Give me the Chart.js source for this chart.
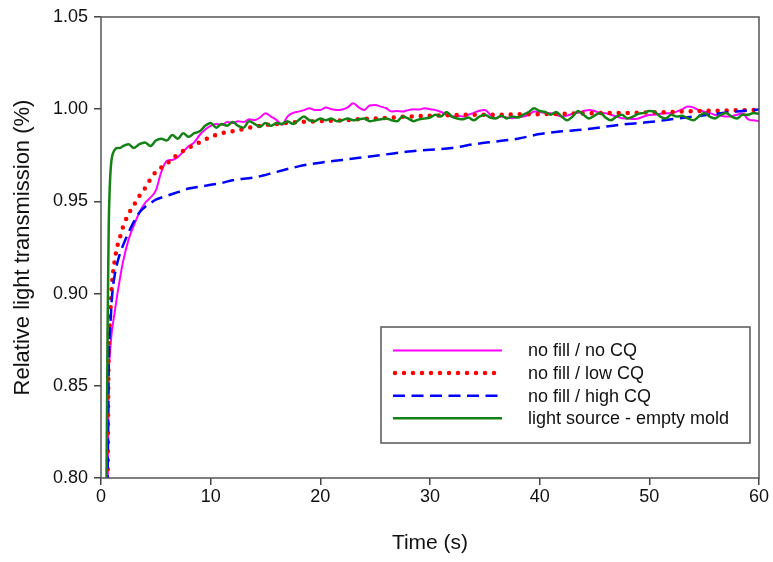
<!DOCTYPE html>
<html>
<head>
<meta charset="utf-8">
<title>Relative light transmission</title>
<script src="https://cdn.jsdelivr.net/npm/chart.js@4.4.1/dist/chart.umd.min.js"></script>
<style>
  body { margin: 0; background: #fff; }
  #wrap { width: 773px; height: 562px; }
</style>
</head>
<body>
<div id="wrap"><canvas id="lightChart" width="773" height="562"></canvas></div>
<script>
// time axis (s) for the noisy traces
const timeFine = [
    0.5, 0.6, 0.7, 0.8, 0.9, 1.0, 1.25, 1.5, 1.75, 2.0,
    2.5, 3, 3.5, 4, 4.5, 5, 5.5, 6, 6.5, 7,
    7.5, 8, 8.5, 9, 9.5, 10, 10.5, 11, 11.5, 12,
    12.5, 13, 13.5, 14, 14.5, 15, 15.5, 16, 16.5, 17,
    17.5, 18, 18.5, 19, 19.5, 20, 20.5, 21, 21.5, 22,
    22.5, 23, 23.5, 24, 24.5, 25, 25.5, 26, 26.5, 27,
    27.5, 28, 28.5, 29, 29.5, 30, 30.5, 31, 31.5, 32,
    32.5, 33, 33.5, 34, 34.5, 35, 35.5, 36, 36.5, 37,
    37.5, 38, 38.5, 39, 39.5, 40, 40.5, 41, 41.5, 42,
    42.5, 43, 43.5, 44, 44.5, 45, 45.5, 46, 46.5, 47,
    47.5, 48, 48.5, 49, 49.5, 50, 50.5, 51, 51.5, 52,
    52.5, 53, 53.5, 54, 54.5, 55, 55.5, 56, 56.5, 57,
    57.5, 58, 58.5, 59, 59.5, 60
];

// time axis (s) for the smooth traces
const timeCoarse = [
    0.6, 0.7, 0.8, 0.9, 1.0, 1.25, 1.5, 1.75, 2, 2.5,
    3, 3.5, 4, 4.5, 5, 6, 7, 8, 9, 10,
    11, 12, 14, 16, 18, 20, 22, 24, 26, 28,
    30, 32, 34, 36, 38, 40, 42, 44, 46, 48,
    50, 52, 54, 56, 58, 60
];

const noFillNoCQ = [
    0.70, 0.78, 0.852, 0.866, 0.874, 0.880, 0.890, 0.900, 0.909, 0.917,
    0.929, 0.937, 0.944, 0.949, 0.952, 0.956, 0.966, 0.972, 0.9725, 0.974,
    0.977, 0.980, 0.982, 0.986, 0.989, 0.991, 0.992, 0.9915, 0.993, 0.9925,
    0.9935, 0.993, 0.9945, 0.994, 0.9955, 0.9978, 0.996, 0.9942, 0.9915, 0.996,
    0.998, 0.9987, 0.9995, 1.0005, 0.9995, 0.9996, 1.0009, 1.000, 0.9995, 0.9998,
    1.001, 1.0032, 1.001, 0.9996, 1.002, 1.0023, 1.0014, 1.0005, 0.9987, 0.999,
    0.9987, 0.9995, 1.000, 0.9998, 1.0005, 1.000, 0.9995, 0.9985, 0.997, 0.996,
    0.9965, 0.996, 0.997, 0.998, 0.9992, 0.9996, 0.997, 0.9951, 0.996, 0.9955,
    0.9951, 0.9958, 0.996, 0.997, 0.9987, 0.9985, 0.998, 0.9978, 0.997, 0.996,
    0.9965, 0.9975, 0.998, 0.999, 0.9996, 0.999, 0.998, 0.9978, 0.997, 0.996,
    0.9951, 0.995, 0.9947, 0.995, 0.996, 0.9969, 0.997, 0.9975, 0.9978, 0.998,
    0.9987, 1.000, 1.0014, 1.001, 0.9995, 0.9987, 0.998, 0.9969, 0.9965, 0.996,
    0.9962, 0.997, 0.9978, 0.9945, 0.994, 0.9935
];

const lightSource = [
    0.795, 0.880, 0.935, 0.958, 0.969, 0.974, 0.978, 0.979, 0.979, 0.980,
    0.981, 0.979, 0.981, 0.982, 0.980, 0.983, 0.984, 0.983, 0.986, 0.984,
    0.987, 0.985, 0.987, 0.988, 0.991, 0.9925, 0.990, 0.992, 0.991, 0.993,
    0.991, 0.990, 0.9935, 0.992, 0.9905, 0.9925, 0.991, 0.9925, 0.992, 0.9935,
    0.992, 0.994, 0.996, 0.994, 0.9935, 0.995, 0.994, 0.995, 0.9935, 0.994,
    0.995, 0.994, 0.9945, 0.995, 0.9935, 0.994, 0.9945, 0.995, 0.994, 0.9935,
    0.996, 0.995, 0.9935, 0.9945, 0.995, 0.9955, 0.997, 0.996, 0.9985, 0.996,
    0.995, 0.9945, 0.9955, 0.994, 0.996, 0.997, 0.9955, 0.995, 0.9965, 0.995,
    0.996, 0.9955, 0.997, 0.9985, 1.0005, 0.999, 0.9985, 0.997, 0.9985, 0.996,
    0.994, 0.996, 0.999, 0.997, 0.995, 0.9965, 0.998, 0.9955, 0.994, 0.996,
    0.997, 0.995, 0.996, 0.9975, 0.998, 0.999, 0.9985, 0.996, 0.995, 0.997,
    0.996, 0.9965, 0.995, 0.994, 0.996, 0.998, 0.996, 0.995, 0.997, 0.998,
    0.996, 0.995, 0.997, 0.997, 0.998, 0.9975
];

const noFillLowCQ = [
    0.795, 0.872, 0.884, 0.895, 0.905, 0.918, 0.926, 0.931, 0.936, 0.943,
    0.948, 0.953, 0.957, 0.962, 0.966, 0.9705, 0.9755, 0.979, 0.982, 0.985,
    0.987, 0.988, 0.9905, 0.992, 0.993, 0.9935, 0.994, 0.9947, 0.9953, 0.996,
    0.9965, 0.9968, 0.997, 0.997, 0.9972, 0.9973, 0.9975, 0.9977, 0.998, 0.998,
    0.9983, 0.9985, 0.999, 0.9992, 0.9994, 0.9996
];

const noFillHighCQ = [
    0.795, 0.86, 0.878, 0.888, 0.898, 0.910, 0.917, 0.922, 0.926, 0.933,
    0.939, 0.944, 0.947, 0.949, 0.951, 0.953, 0.955, 0.957, 0.958, 0.959,
    0.960, 0.9615, 0.963, 0.966, 0.969, 0.971, 0.9725, 0.974, 0.9755, 0.977,
    0.978, 0.979, 0.981, 0.9825, 0.984, 0.9865, 0.988, 0.989, 0.9905, 0.992,
    0.993, 0.9945, 0.996, 0.9975, 0.9988, 0.9998
];

const xTicks = [0, 10, 20, 30, 40, 50, 60];
const yTicks = [0.80, 0.85, 0.90, 0.95, 1.00, 1.05];

const pairUp = (xs, ys) => xs.map((x, i) => ({ x: x, y: ys[i] }));

const FONT = '"Liberation Sans", Arial, sans-serif';

// box round the plot area (SigmaPlot style)
const framePlugin = {
    id: 'frame',
    afterDraw(chart) {
        const { ctx, chartArea: a } = chart;
        ctx.save();
        ctx.strokeStyle = '#555';
        ctx.lineWidth = 1.5;
        ctx.strokeRect(a.left, a.top, a.right - a.left, a.bottom - a.top);
        ctx.restore();
    }
};

// legend drawn inside the plot, lower right
const boxLegend = {
    id: 'boxLegend',
    afterDraw(chart) {
        const ctx = chart.ctx;
        const bx = 381, by = 327, bw = 369, bh = 116;
        ctx.save();
        ctx.fillStyle = '#fff';
        ctx.fillRect(bx, by, bw, bh);
        ctx.strokeStyle = '#555';
        ctx.lineWidth = 1.5;
        ctx.strokeRect(bx, by, bw, bh);
        ctx.font = '18px ' + FONT;
        ctx.textBaseline = 'middle';
        chart.data.datasets.forEach((ds, i) => {
            const y = 350.5 + i * 22.6;
            ctx.beginPath();
            ctx.setLineDash(ds.borderDash || []);
            ctx.lineCap = ds.borderCapStyle || 'butt';
            ctx.lineWidth = ds.borderWidth;
            ctx.strokeStyle = ds.borderColor;
            ctx.moveTo(ds.borderDash && ds.borderDash[0] === 0 ? 395 : 393, y);
            ctx.lineTo(502, y);
            ctx.stroke();
            ctx.setLineDash([]);
            ctx.fillStyle = '#111';
            ctx.fillText(ds.label, 528, y + 1);
        });
        ctx.restore();
    }
};

const ctx = document.getElementById('lightChart').getContext('2d');

const lightChart = new Chart(ctx, {
    type: 'line',
    data: {
        datasets: [{
            label: 'no fill / no CQ',
            data: pairUp(timeFine, noFillNoCQ),
            borderColor: '#ff00ff',
            borderWidth: 2,
            order: 4
        }, {
            label: 'no fill / low CQ',
            data: pairUp(timeCoarse, noFillLowCQ),
            borderColor: '#ff0000',
            borderWidth: 4.5,
            borderDash: [0, 9],
            borderCapStyle: 'round',
            order: 3
        }, {
            label: 'no fill / high CQ',
            data: pairUp(timeCoarse, noFillHighCQ),
            borderColor: '#0000ff',
            borderWidth: 2.5,
            borderDash: [12, 6.5],
            order: 2
        }, {
            label: 'light source - empty mold',
            data: pairUp(timeFine, lightSource),
            borderColor: '#148214',
            borderWidth: 2.5,
            order: 1
        }]
    },
    options: {
        responsive: false,
        devicePixelRatio: 1,
        animation: false,
        elements: {
            point: { radius: 0, hoverRadius: 0 },
            line: { cubicInterpolationMode: 'monotone', fill: false }
        },
        layout: {
            padding: { left: 0, right: 14, top: 17, bottom: 0 }
        },
        plugins: {
            legend: { display: false },
            tooltip: { enabled: false }
        },
        scales: {
            x: {
                type: 'linear',
                min: 0,
                max: 60,
                afterFit: (scale) => { scale.height = 84; },
                afterBuildTicks: (scale) => { scale.ticks = xTicks.map(v => ({ value: v })); },
                border: { display: false },
                grid: {
                    drawOnChartArea: false,
                    drawTicks: true,
                    tickLength: 7,
                    tickColor: '#444',
                    lineWidth: 1.5
                },
                ticks: {
                    color: '#111',
                    font: { family: FONT, size: 18 },
                    padding: 1,
                    maxRotation: 0,
                    callback: v => String(v)
                },
                title: {
                    display: true,
                    text: 'Time (s)',
                    color: '#111',
                    font: { family: FONT, size: 21 },
                    padding: { top: 0, bottom: 6 }
                }
            },
            y: {
                type: 'linear',
                min: 0.80,
                max: 1.05,
                afterFit: (scale) => { scale.width = 101; },
                afterBuildTicks: (scale) => { scale.ticks = yTicks.map(v => ({ value: v })); },
                border: { display: false },
                grid: {
                    drawOnChartArea: false,
                    drawTicks: true,
                    tickLength: 7,
                    tickColor: '#444',
                    lineWidth: 1.5
                },
                ticks: {
                    color: '#111',
                    font: { family: FONT, size: 18 },
                    padding: 6,
                    callback: v => Number(v).toFixed(2)
                },
                title: {
                    display: true,
                    text: 'Relative light transmission (%)',
                    color: '#111',
                    font: { family: FONT, size: 22 },
                    padding: { top: 10, bottom: 0 }
                }
            }
        }
    },
    plugins: [framePlugin, boxLegend]
});
</script>
</body>
</html>
